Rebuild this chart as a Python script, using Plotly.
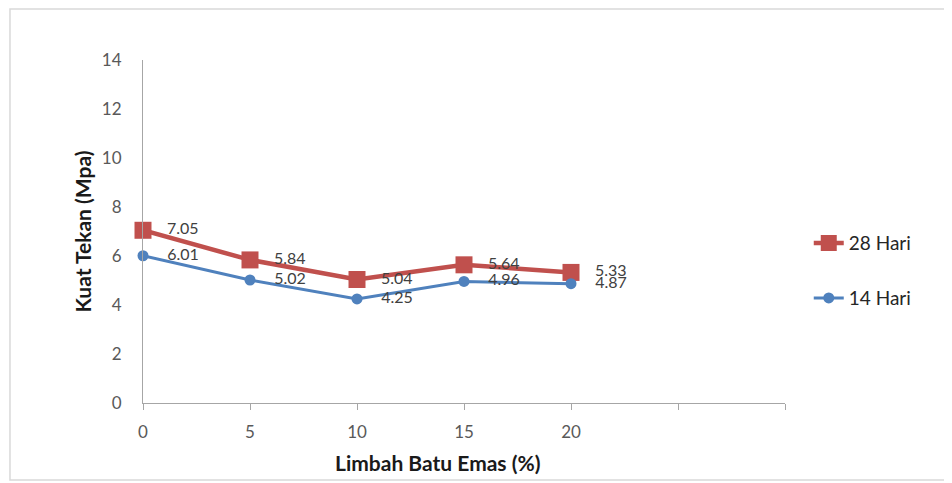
import plotly.graph_objects as go

# Data
limbah = [0, 5, 10, 15, 20]
hari_28 = [7.05, 5.84, 5.04, 5.64, 5.33]
hari_14 = [6.01, 5.02, 4.25, 4.96, 4.87]
x_tick_vals = [0, 5, 10, 15, 20, 25, 30]
x_tick_text = ["0", "5", "10", "15", "20", "", ""]
y_tick_vals = [0, 2, 4, 6, 8, 10, 12, 14]
x_title = "Limbah Batu Emas (%)"
y_title = "Kuat Tekan (Mpa)"

FONT = "Lato, 'Open Sans', sans-serif"
RED = "#C0504D"
BLUE = "#4F81BD"

fig = go.Figure()
fig.add_trace(go.Scatter(
    x=limbah, y=hari_28, name="28 Hari", mode="lines+markers+text",
    line=dict(color=RED, width=4.5),
    marker=dict(symbol="square", size=17, color=RED),
    texttemplate="   %{y:.2f}", textposition="middle right",
    textfont=dict(family=FONT, size=16, color="#404040"),
    legend="legend", cliponaxis=False,
))
fig.add_trace(go.Scatter(
    x=limbah, y=hari_14, name="14 Hari", mode="lines+markers+text",
    line=dict(color=BLUE, width=3),
    marker=dict(symbol="circle", size=11, color=BLUE),
    texttemplate="    %{y:.2f}", textposition="middle right",
    textfont=dict(family=FONT, size=16, color="#404040"),
    legend="legend2", cliponaxis=False,
))

fig.update_layout(
    width=944, height=475,
    margin=dict(l=135, r=167, t=52, b=80),
    paper_bgcolor="white", plot_bgcolor="white",
    font=dict(family=FONT, color="#595959", size=17),
    showlegend=True,
    legend=dict(x=1.037, y=0.466, xanchor="left", yanchor="middle",
                font=dict(family=FONT, size=19, color="#262626"),
                bgcolor="rgba(0,0,0,0)"),
    legend2=dict(x=1.037, y=0.306, xanchor="left", yanchor="middle",
                 font=dict(family=FONT, size=19, color="#262626"),
                 bgcolor="rgba(0,0,0,0)"),
    xaxis=dict(
        range=[0, 30], tickvals=x_tick_vals, ticktext=x_tick_text,
        showgrid=False, zeroline=False, showline=True,
        linecolor="#A6A6A6", linewidth=1,
        ticks="outside", ticklen=6, tickcolor="#A6A6A6",
        ticklabelstandoff=8,
        tickfont=dict(family=FONT, size=17, color="#595959"),
    ),
    yaxis=dict(
        range=[0, 14], tickvals=y_tick_vals,
        showgrid=False, zeroline=False, showline=True,
        linecolor="#A6A6A6", linewidth=1, ticks="",
        ticklabelstandoff=17,
        tickfont=dict(family=FONT, size=17, color="#595959"),
        title=dict(text="<b>" + y_title + "</b>", standoff=4,
                   font=dict(family=FONT, size=21, color="#1a1a1a")),
    ),
    annotations=[dict(text="<b>" + x_title + "</b>", xref="paper", yref="paper",
                      x=0.4595, y=0, xanchor="center", yanchor="middle",
                      yshift=-59, showarrow=False,
                      font=dict(family=FONT, size=21, color="#1a1a1a"))],
    shapes=[dict(type="rect", xref="paper", yref="paper",
                 x0=-0.2072, x1=1.2586, y0=-0.2245, y1=1.1487,
                 line=dict(color="#D9D9D9", width=1.5), layer="below")],
)

fig.write_html("out.html")
